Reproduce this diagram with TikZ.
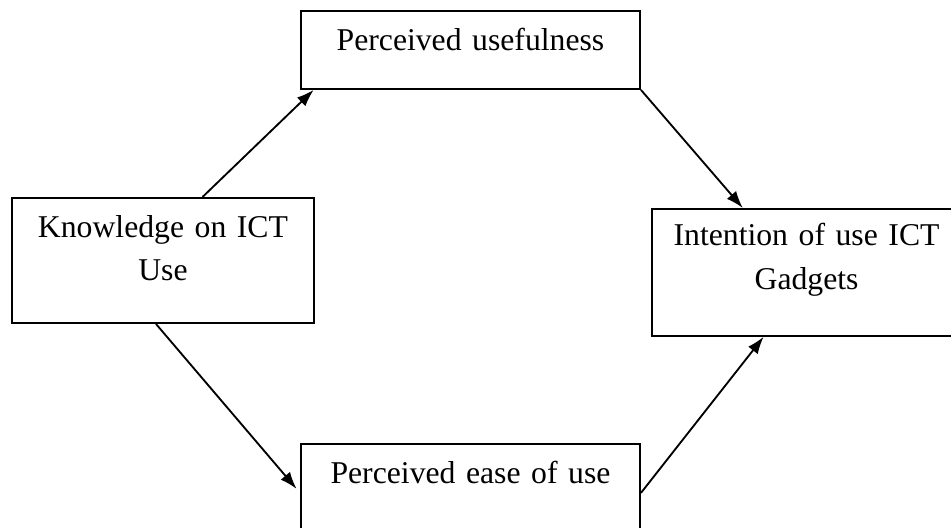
\documentclass[tikz,border=0pt]{standalone}
\usepackage{fontspec}
\setmainfont{Liberation Serif}
\usetikzlibrary{arrows.meta,calc}

\begin{document}
\begin{tikzpicture}[x=0.3785pt,y=-0.3785pt,
  box/.style={draw,line width=0.75pt,anchor=north west,inner sep=0pt,align=center,
    font=\fontsize{12pt}{16.4pt}\selectfont},
  link/.style={-{Latex[length=6.5pt,width=4.6pt]},line width=0.7pt}]
\useasboundingbox (0,0) rectangle (951,527);

\node[box,text width=128.3pt,text height=15.1pt,text depth=14.4pt] (pu) at (300,10) {Perceived usefulness};
\node[box,text width=114.3pt,text height=14.8pt,text depth=32.5pt] (know) at (11,197) {Knowledge on ICT\\Use};
\node[box,text width=117pt,text height=14pt,text depth=34pt] (gad) at (651,208) {Intention of use ICT\\Gadgets};
\node[box,text width=128.3pt,text height=15.1pt,text depth=22.7pt] (ease) at (300,443) {Perceived ease of use};

\draw[link] ($(know.north west)!0.63!(know.north east)$) -- ($(pu.south west)!0.04!(pu.south east)$);
\draw[link] (pu.south east) -- ($(gad.north west)!0.295!(gad.north east)$);
\draw[link,shorten >=2pt] ($(know.south west)!0.477!(know.south east)$) -- ($(ease.north west)!0.49!(ease.south west)$);
\draw[link] ($(ease.north east)!0.49!(ease.south east)$) -- ($(gad.south west)!0.362!(gad.south east)$);
\end{tikzpicture}
\end{document}
